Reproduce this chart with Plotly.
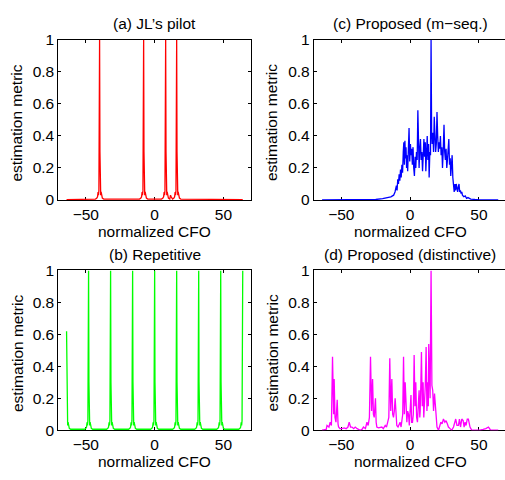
import plotly.graph_objects as go

# ---------------- data ----------------
# (a) JL's pilot: spike centres and a common spike profile (offset, value)
red_peaks = [-40.0, -8.0, 8.0, 16.0]
red_heights = [1.0, 1.0, 1.0, 1.0]
spike_off = [-3.0, -2.0, -1.5, -1.1, -0.8, -0.5, -0.25, 0.0, 0.25, 0.5, 0.8, 1.1, 1.5, 2.0, 3.0]
spike_val = [0.006, 0.012, 0.02, 0.05, 0.03, 0.06, 0.3, 1.0, 0.3, 0.06, 0.03, 0.05, 0.02, 0.012, 0.006]
red_floor_x = [-64.0, -55.0, -50.0, -25.0, -15.0, 0.0, 11.5, 12.0, 30.0, 45.0, 64.0]
red_floor_y = [0.002, 0.003, 0.004, 0.004, 0.005, 0.005, 0.03, 0.02, 0.004, 0.003, 0.002]

# (b) Repetitive
green_peaks = [-64.0, -48.0, -32.0, -16.0, 0.0, 16.0, 32.0, 48.0, 64.0]
green_heights = [0.62, 1.0, 1.0, 1.0, 1.0, 1.0, 1.0, 1.0, 1.0]
green_floor_x = [-56.0, -40.0, -24.0, -8.0, 8.0, 24.0, 40.0, 56.0]
green_floor_y = [0.004, 0.004, 0.004, 0.004, 0.004, 0.004, 0.004, 0.004]

# (c) Proposed (m-seq.)
blue_x = [-64, -50, -40, -30, -25, -20, -17, -14, -12, -11,
          -10, -9.5, -9, -8.5, -8, -7.5, -7, -6.5, -6, -5.5,
          -5, -4.6, -4.2, -3.8, -3.4, -3, -2.6, -2.2, -1.8, -1.3,
          -0.8, -0.3, 0.2, 0.6, 1.1, 1.6, 2.1, 2.6, 3.1, 3.6,
          4.1, 4.6, 5.1, 5.6, 6.0, 6.5, 7.0, 7.5, 8.0, 8.5,
          9.0, 9.5, 10.0, 10.5, 11.0, 11.4, 11.9, 12.4, 12.9, 13.4,
          13.8, 14.3, 14.8, 15.2, 15.6, 16.0, 16.5, 17.0, 17.5, 18.0,
          18.5, 19.0, 19.5, 20.0, 20.5, 21.0, 21.5, 22.0, 22.5, 23.0,
          23.5, 24.0, 24.6, 25.1, 25.6, 26.1, 26.6, 27.1, 27.6, 28.1,
          28.6, 29.1, 29.5, 30.0, 30.5, 31.0, 31.5, 32.0, 32.5, 33.0,
          33.5, 34.0, 34.5, 35.0, 35.5, 36.0, 36.5, 37.0, 37.5, 38.0,
          39, 40, 41, 42, 44, 47, 50, 64]
blue_y = [0.0, 0.0, 0.001, 0.002, 0.003, 0.008, 0.012, 0.02, 0.03, 0.05,
          0.09, 0.06, 0.13, 0.10, 0.16, 0.12, 0.19, 0.14, 0.22, 0.17,
          0.30, 0.36, 0.22, 0.37, 0.26, 0.33, 0.20, 0.28, 0.18, 0.32,
          0.45, 0.24, 0.35, 0.28, 0.32, 0.22, 0.33, 0.20, 0.15, 0.27,
          0.20, 0.30, 0.25, 0.56, 0.30, 0.20, 0.32, 0.38, 0.25, 0.30,
          0.18, 0.33, 0.38, 0.27, 0.36, 0.18, 0.30, 0.40, 0.25, 0.35,
          0.14, 0.30, 0.28, 1.00, 0.42, 0.35, 0.42, 0.30, 0.52, 0.38,
          0.30, 0.35, 0.55, 0.40, 0.30, 0.36, 0.32, 0.40, 0.28, 0.33,
          0.20, 0.30, 0.47, 0.30, 0.25, 0.32, 0.20, 0.25, 0.30, 0.38,
          0.22, 0.26, 0.15, 0.22, 0.28, 0.14, 0.08, 0.05, 0.10, 0.06,
          0.10, 0.07, 0.05, 0.08, 0.10, 0.05, 0.06, 0.04, 0.05, 0.03,
          0.02, 0.025, 0.01, 0.015, 0.006, 0.003, 0.001, 0.0]

# (d) Proposed (distinctive)
mag_x = [-64, -61, -60.4, -59, -58.1, -57.2, -56.4, -55.6, -55.2, -54.6,
         -53.9, -53.4, -53, -52.4, -52, -51, -49.6, -48, -46.5, -45.2,
         -44.3, -43.3, -42.3, -41, -39.9, -38.5, -37.3, -36.3, -35, -33.9,
         -32.5, -31.4, -30.5, -29.6, -28.8, -28.0, -27.3, -26.7, -26.1, -25.6,
         -25.2, -24.7, -24.2, -23, -21.5, -20.6, -19.5, -18.1, -17.2, -16.2,
         -15.5, -14.8, -14.1, -13.3, -12.7, -12.1, -11.5, -10.9, -10.3, -9.7,
         -8.8, -8.0, -7.3, -6.6, -6.0, -5.4, -4.8, -4.2, -3.6, -3.0,
         -2.4, -1.8, -1.2, -0.6, 0, 0.6, 1.1, 1.7, 2.3, 2.9,
         3.5, 4.1, 4.7, 5.3, 5.9, 6.5, 7.0, 7.3, 7.8, 8.2,
         8.8, 9.4, 9.9, 10.4, 11.0, 11.6, 12.2, 12.8, 13.2, 13.5,
         14.0, 14.5, 15.2, 15.8, 16.4, 17.0, 17.7, 18.3, 18.9, 19.5,
         20.6, 21.5, 22.3, 23.2, 24.2, 25.2, 26.1, 27.0, 27.8, 29,
         30.2, 31.5, 32.3, 33.1, 34, 35.1, 35.8, 36.6, 37.5, 38.5,
         39.2, 39.9, 40.6, 41.5, 42.3, 43.5, 44.8, 47, 50.8, 53,
         55, 56.9, 58.5, 62.9, 64]
mag_y = [0.0, 0.005, 0.03, 0.02, 0.05, 0.03, 0.46, 0.10, 0.32, 0.08,
         0.05, 0.12, 0.19, 0.04, 0.02, 0.01, 0.01, 0.015, 0.01, 0.02,
         0.05, 0.02, 0.02, 0.01, 0.02, 0.01, 0.005, 0.0, 0.005, 0.02,
         0.01, 0.05, 0.03, 0.08, 0.46, 0.12, 0.32, 0.10, 0.08, 0.15,
         0.20, 0.05, 0.02, 0.015, 0.02, 0.02, 0.01, 0.03, 0.02, 0.05,
         0.08, 0.45, 0.12, 0.32, 0.10, 0.08, 0.12, 0.20, 0.05, 0.03,
         0.02, 0.04, 0.05, 0.02, 0.08, 0.10, 0.46, 0.10, 0.30, 0.08,
         0.05, 0.12, 0.10, 0.03, 0.15, 0.22, 0.05, 0.05, 0.10, 0.47,
         0.15, 0.30, 0.08, 0.05, 0.15, 0.25, 0.08, 0.12, 0.30, 0.49,
         0.15, 0.30, 0.08, 0.15, 0.28, 0.52, 0.12, 0.30, 0.15, 0.54,
         0.30, 0.20, 1.00, 0.28, 0.25, 0.12, 0.23, 0.15, 0.05, 0.02,
         0.0, 0.03, 0.05, 0.04, 0.07, 0.05, 0.06, 0.04, 0.02, 0.01,
         0.0, 0.02, 0.05, 0.07, 0.03, 0.03, 0.07, 0.02, 0.07, 0.06,
         0.02, 0.05, 0.03, 0.07, 0.07, 0.02, 0.0, 0.0, 0.0, 0.005,
         0.01, 0.02, 0.0, 0.0, 0.0]

titles = ["(a) JL\u2019s pilot", "(c) Proposed (m\u2212seq.)", "(b) Repetitive", "(d) Proposed (distinctive)"]
x_label = "normalized CFO"
y_label = "estimation metric"
x_ticks = [-50, 0, 50]
y_ticks = [0, 0.2, 0.4, 0.6, 0.8, 1]
y_ticktext = ["0", "0.2", "0.4", "0.6", "0.8", "1"]


def build_spiky(peaks, heights, floor_x, floor_y, lo=-64.0, hi=64.0):
    pts = list(zip(floor_x, floor_y))
    for p, h in zip(peaks, heights):
        for o, v in zip(spike_off, spike_val):
            x = p + o
            if lo <= x <= hi:
                pts.append((x, v * h if o == 0 else v))
    pts.sort()
    return [a for a, _ in pts], [b for _, b in pts]


red_x, red_y = build_spiky(red_peaks, red_heights, red_floor_x, red_floor_y)
green_x, green_y = build_spiky(green_peaks, green_heights, green_floor_x, green_floor_y)

# ---------------- layout geometry ----------------
W, H = 505, 480
def fx(p): return p / W
def fy(p): return 1 - p / H

LX = [58.3, 251.0]
RX = [313.8, 505.0]
TY = [32.0, 198.0]
BY = [271.0, 436.7]
SCALE = (LX[1] - LX[0]) / 140.0
right_range = [-70, -70 + (RX[1] - RX[0]) / SCALE]

FONT = "Liberation Sans, Arial, Helvetica, sans-serif"
FS = 15.5

fig = go.Figure()
series = [(red_x, red_y, "#FF0000", "x", "y"),
          (blue_x, blue_y, "#0000FF", "x2", "y2"),
          (green_x, green_y, "#00FF00", "x3", "y3"),
          (mag_x, mag_y, "#FF00FF", "x4", "y4")]
for xs, ys, c, xa, ya in series:
    fig.add_trace(go.Scatter(x=xs, y=ys, mode="lines", line=dict(color=c, width=1.3),
                             xaxis=xa, yaxis=ya, showlegend=False, hoverinfo="skip"))

def xax(dom, rng, anchor):
    return dict(domain=[fx(dom[0]), fx(dom[1])], range=rng, anchor=anchor,
                tickvals=x_ticks, ticks="inside", ticklen=3, tickcolor="black",
                showline=True, linecolor="black", linewidth=1, mirror="allticks",
                showgrid=False, zeroline=False, layer="below traces",
                tickfont=dict(family=FONT, size=FS, color="black"))

def yax(dom, anchor, mirror=True):
    return dict(domain=[fy(dom[1]), fy(dom[0])], range=[0, 1], anchor=anchor,
                tickvals=y_ticks, ticktext=y_ticktext, ticks="inside", ticklen=3,
                tickcolor="black", showline=True, linecolor="black", linewidth=1,
                mirror="allticks" if mirror else False,
                showgrid=False, zeroline=False, layer="below traces",
                tickfont=dict(family=FONT, size=FS, color="black"))

fig.update_layout(
    width=W, height=H, margin=dict(l=0, r=0, t=0, b=0),
    paper_bgcolor="white", plot_bgcolor="white",
    xaxis=xax(LX, [-70, 70], "y"), yaxis=yax(TY, "x"),
    xaxis2=xax(RX, right_range, "y2"), yaxis2=yax(TY, "x2", mirror=False),
    xaxis3=xax(LX, [-70, 70], "y3"), yaxis3=yax(BY, "x3"),
    xaxis4=xax(RX, right_range, "y4"), yaxis4=yax(BY, "x4", mirror=False),
)

ann = []
panels = [(LX, TY, titles[0], 154.7), (RX, TY, titles[1], 410.4),
          (LX, BY, titles[2], 154.7), (RX, BY, titles[3], 410.4)]
for (px_, py_, t, cx) in panels:
    ann.append(dict(text=t, x=fx(cx), y=fy(py_[0] - 17), xref="paper", yref="paper",
                    xanchor="center", yanchor="middle", showarrow=False,
                    font=dict(family=FONT, size=FS, color="black")))
    ann.append(dict(text=x_label, x=fx(cx), y=fy(py_[1] + 22), xref="paper", yref="paper",
                    xanchor="center", yanchor="top", showarrow=False,
                    font=dict(family=FONT, size=FS, color="black")))
    ann.append(dict(text=y_label, x=fx(px_[0] - 41.5), y=fy((py_[0] + py_[1]) / 2 + 3),
                    xref="paper", yref="paper", xanchor="center", yanchor="middle",
                    textangle=-90, showarrow=False,
                    font=dict(family=FONT, size=FS, color="black")))
fig.update_layout(annotations=ann)

fig.write_html("out.html")
